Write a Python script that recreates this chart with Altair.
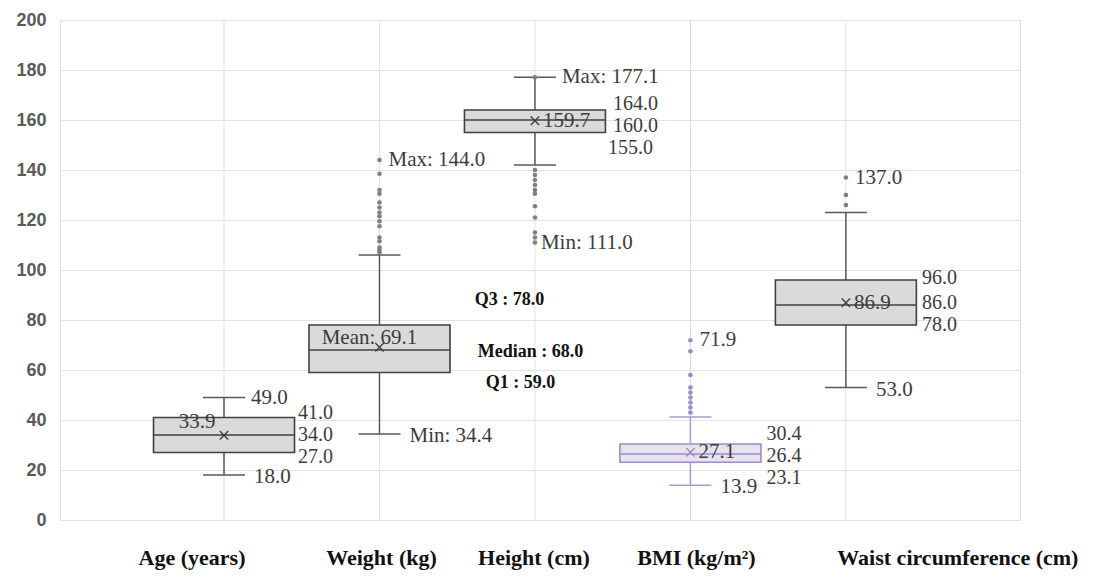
import altair as alt
import pandas as pd

# ---------------- data ----------------
categories = ["Age (years)", "Weight (kg)", "Height (cm)", "BMI (kg/m²)", "Waist circumference (cm)"]
q1_vals = [27.0, 59.0, 155.0, 23.1, 78.0]
median_vals = [34.0, 68.0, 160.0, 26.4, 86.0]
q3_vals = [41.0, 78.0, 164.0, 30.4, 96.0]
mean_vals = [33.9, 69.1, 159.7, 27.1, 86.9]
whisker_low = [18.0, 34.4, 142.0, 13.9, 53.0]
whisker_high = [49.0, 106.0, 177.1, 41.2, 123.0]
outlier_age = []
outlier_weight = [144.0, 138.5, 132.0, 130.5, 127.0, 125.0, 123.0, 121.5, 119.5, 117.5,
                  113.0, 111.5, 109.0, 108.0, 107.0]
outlier_height = [177.1, 140.0, 138.0, 136.0, 134.0, 132.0, 130.5, 125.5, 121.0, 115.0, 113.0, 111.0]
outlier_bmi = [71.9, 67.5, 58.0, 53.0, 51.0, 49.0, 47.0, 45.0, 43.0]
outlier_waist = [137.0, 130.0, 126.0]
outliers = [outlier_age, outlier_weight, outlier_height, outlier_bmi, outlier_waist]
y_ticks = list(range(0, 201, 20))
max_prefix = ["", "Max: ", "Max: ", "", ""]
min_prefix = ["", "Min: ", "Min: ", "", ""]
mean_prefix = ["", "Mean: ", "", "", ""]
weight_stat_names = ["Q3", "Median", "Q1"]

# ---------------- layout / style ----------------
W, H = 960, 500
X_DOMAIN = [-1.055, 5.12]
PXU = W / (X_DOMAIN[1] - X_DOMAIN[0])   # px per category unit
YPU = H / 200.0                          # px per y unit
BOX_HALF = 70.5 / PXU
CAP_HALF = 21 / PXU
line_col = ["#595959", "#595959", "#595959", "#a999cf", "#595959"]
box_stroke = ["#404040", "#404040", "#404040", "#9d8cc4", "#404040"]
box_fill = ["#dadada", "#dadada", "#dadada", "#e6e2ef", "#dadada"]
dot_col = ["#808080", "#808080", "#808080", "#9d8cc4", "#808080"]
vgrid_col = ["#e3e3e3", "#e3e3e3", "#e3e3e3", "#ddd6ec", "#e3e3e3"]
title_dx = [-32, 2, -1, 6, 112]
quart_dx = [74, 0, 78, 76, 76]
quart_dy = [0, 0, 6, 2, -2]
mean_dx = [-27, -10, 8, 8, 8]
mean_dy = [-13, -9, 0, 0, 0]
mean_align = ["center", "center", "left", "left", "left"]
weight_stat_dx = [130, 151, 141]
weight_stat_dy = [-25, 2, 10.5]
SERIF = "Liberation Serif"
TXT = "#3c3c3c"


def xo(i, dx):
    return i + dx / PXU


def yo(v, dy):
    return v - dy / YPU


def xenc(f):
    return alt.X(f + ":Q", scale=alt.Scale(domain=X_DOMAIN, nice=False, zero=False), axis=None)


def yenc(f):
    return alt.Y(f + ":Q", scale=alt.Scale(domain=[0, 200], nice=False),
                 axis=alt.Axis(values=y_ticks, title=None, ticks=False, domain=False,
                               labelFont="Liberation Sans", labelFontSize=18, labelFontWeight="bold",
                               labelColor="#5a5a5a", labelPadding=14,
                               gridColor="#e3e3e3", gridWidth=1))


n = len(categories)
idx = list(range(n))

stats = pd.DataFrame({
    "i": idx, "cat": categories, "q1": q1_vals, "med": median_vals, "q3": q3_vals,
    "mean": mean_vals, "wlo": whisker_low, "whi": whisker_high,
    "xl": [i - BOX_HALF for i in idx], "xr": [i + BOX_HALF for i in idx],
    "cl": [i - CAP_HALF for i in idx], "cr": [i + CAP_HALF for i in idx],
    "lc": line_col, "bs": box_stroke, "bf": box_fill, "dc": dot_col, "vg": vgrid_col,
    "y0": [0] * n, "y1": [200] * n,
})

out_rows = []
for i, vals in enumerate(outliers):
    for v in vals:
        out_rows.append({"i": i, "v": v, "dc": dot_col[i]})
out_df = pd.DataFrame(out_rows)

vgrid = alt.Chart(stats).mark_rule(strokeWidth=1).encode(
    x=xenc("i"), y=yenc("y0"), y2="y1", color=alt.Color("vg:N", scale=None))

whisk_up = alt.Chart(stats).mark_rule(strokeWidth=1.5).encode(
    x=xenc("i"), y=yenc("q3"), y2="whi", color=alt.Color("lc:N", scale=None))
whisk_dn = alt.Chart(stats).mark_rule(strokeWidth=1.5).encode(
    x=xenc("i"), y=yenc("wlo"), y2="q1", color=alt.Color("lc:N", scale=None))
cap_up = alt.Chart(stats).mark_rule(strokeWidth=1.5).encode(
    x=xenc("cl"), x2="cr", y=yenc("whi"), color=alt.Color("lc:N", scale=None))
cap_dn = alt.Chart(stats).mark_rule(strokeWidth=1.5).encode(
    x=xenc("cl"), x2="cr", y=yenc("wlo"), color=alt.Color("lc:N", scale=None))

boxes = alt.Chart(stats).mark_rect(strokeWidth=1.6).encode(
    x=xenc("xl"), x2="xr", y=yenc("q1"), y2="q3",
    fill=alt.Fill("bf:N", scale=None), stroke=alt.Stroke("bs:N", scale=None))
medians = alt.Chart(stats).mark_rule(strokeWidth=1.6).encode(
    x=xenc("xl"), x2="xr", y=yenc("med"), color=alt.Color("bs:N", scale=None))

dots = alt.Chart(out_df).mark_circle(size=22, opacity=1).encode(
    x=xenc("i"), y=yenc("v"), color=alt.Color("dc:N", scale=None))

means = alt.Chart(stats).mark_point(
    shape="M -1 -1 L 1 1 M -1 1 L 1 -1", size=70, filled=False, strokeWidth=1.4, opacity=1).encode(
    x=xenc("i"), y=yenc("mean"), color=alt.Color("bs:N", scale=None))

# ---------------- annotation tables ----------------
SEP = 8.8
quart_rows = []
left_rows = []
for i in idx:
    if i != 1:  # right-of-box quartile labels
        dx, dy = quart_dx[i], quart_dy[i]
        quart_rows.append({"x": xo(i, dx), "y": yo(max(q3_vals[i], median_vals[i] + SEP), dy),
                           "t": f"{q3_vals[i]:.1f}"})
        quart_rows.append({"x": xo(i, dx), "y": yo(median_vals[i], dy), "t": f"{median_vals[i]:.1f}"})
        quart_rows.append({"x": xo(i, dx - (5 if i == 2 else 0)),
                           "y": yo(min(q1_vals[i], median_vals[i] - SEP), dy),
                           "t": f"{q1_vals[i]:.1f}"})
    top_out = max(outliers[i]) if outliers[i] else None
    if top_out is not None and top_out > whisker_high[i]:
        left_rows.append({"x": xo(i, 9), "y": top_out, "t": f"{max_prefix[i]}{top_out:.1f}"})
    else:
        left_rows.append({"x": xo(i, 27), "y": whisker_high[i],
                          "t": f"{max_prefix[i]}{whisker_high[i]:.1f}"})
    low_out = min(outliers[i]) if outliers[i] else None
    if low_out is not None and low_out < whisker_low[i]:
        left_rows.append({"x": xo(i, 6), "y": low_out, "t": f"{min_prefix[i]}{low_out:.1f}"})
    else:
        left_rows.append({"x": xo(i, 30), "y": yo(whisker_low[i], 2),
                          "t": f"{min_prefix[i]}{whisker_low[i]:.1f}"})

center_rows = []
for i in idx:
    row = {"x": xo(i, mean_dx[i]), "y": yo(mean_vals[i], mean_dy[i]),
           "t": f"{mean_prefix[i]}{mean_vals[i]:.1f}"}
    if mean_align[i] == "left":
        left_rows.append(row)
    else:
        center_rows.append(row)

w_vals = [q3_vals[1], median_vals[1], q1_vals[1]]
bold_rows = [{"x": xo(1, weight_stat_dx[k]), "y": yo(w_vals[k], weight_stat_dy[k]),
              "t": f"{weight_stat_names[k]} : {w_vals[k]:.1f}"} for k in range(3)]

title_rows = pd.DataFrame({"x": [xo(i, title_dx[i]) for i in idx], "t": categories})

txt_quart = alt.Chart(pd.DataFrame(quart_rows)).mark_text(
    align="left", baseline="middle", font=SERIF, fontSize=20, color=TXT).encode(
    x=xenc("x"), y=yenc("y"), text="t:N")
txt_left = alt.Chart(pd.DataFrame(left_rows)).mark_text(
    align="left", baseline="middle", font=SERIF, fontSize=21, color=TXT).encode(
    x=xenc("x"), y=yenc("y"), text="t:N")
txt_center = alt.Chart(pd.DataFrame(center_rows)).mark_text(
    align="center", baseline="middle", font=SERIF, fontSize=21, color=TXT).encode(
    x=xenc("x"), y=yenc("y"), text="t:N")
txt_bold = alt.Chart(pd.DataFrame(bold_rows)).mark_text(
    align="center", baseline="middle", font=SERIF, fontSize=18, fontWeight="bold",
    color="#111111").encode(x=xenc("x"), y=yenc("y"), text="t:N")
titles = alt.Chart(title_rows).mark_text(
    align="center", baseline="middle", font=SERIF, fontSize=22, fontWeight="bold",
    color="#111111").encode(x=xenc("x"), y=alt.value(538), text="t:N")

chart = alt.layer(
    vgrid, whisk_up, whisk_dn, boxes, medians, cap_up, cap_dn, dots, means,
    txt_quart, txt_left, txt_center, txt_bold, titles
).properties(
    width=W, height=H,
    autosize=alt.AutoSizeParams(type="none"),
    padding={"left": 60, "top": 20, "right": 74, "bottom": 61},
    background="white",
).configure_view(stroke="#dcdcdc", strokeWidth=1)

chart.save("out.html", embed_options={"renderer": "svg", "actions": False})
